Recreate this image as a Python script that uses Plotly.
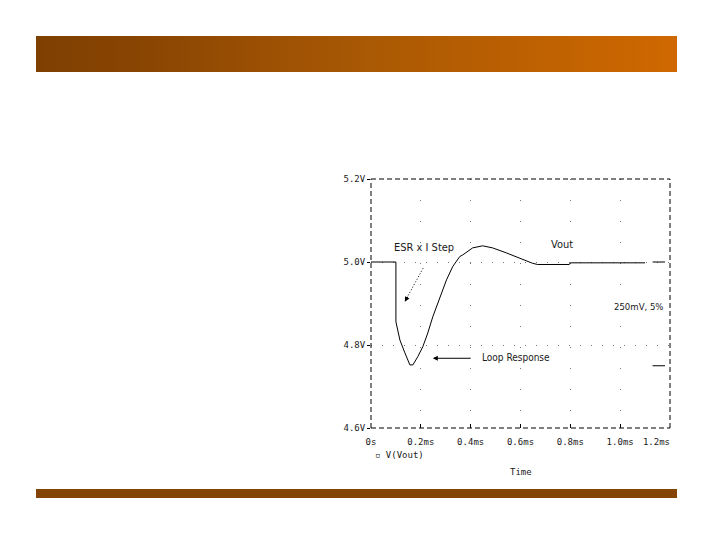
import base64
import plotly.graph_objects as go

# ---- data (time in ms, voltage in V) ----
time_ms = [0.0, 0.1, 0.1, 0.116, 0.136, 0.156, 0.168, 0.188, 0.208, 0.228, 0.248,
           0.276, 0.303, 0.328, 0.356, 0.368, 0.388, 0.408, 0.448, 0.488, 0.543,
           0.596, 0.648, 0.668, 0.796, 0.80, 1.10]
vout = [5.0, 5.0, 4.856, 4.812, 4.781, 4.752, 4.752, 4.772, 4.796, 4.829, 4.868,
        4.916, 4.957, 4.989, 5.013, 5.017, 5.025, 5.034, 5.039, 5.034, 5.022,
        5.009, 4.997, 4.994, 4.994, 4.998, 4.998]

tol_time = [1.13, 1.18]
tol_high = [5.0, 5.0]
tol_low = [4.75, 4.75]

x_ticks = [0.0, 0.2, 0.4, 0.6, 0.8, 1.0, 1.2]
x_labels = ["0s", "0.2ms", "0.4ms", "0.6ms", "0.8ms", "1.0ms",
            "1.2ms&nbsp;&nbsp;&nbsp;&nbsp;&nbsp;"]
y_ticks = [4.6, 4.8, 5.0, 5.2]
y_labels = ["4.6V", "4.8V", "5.0V", "5.2V"]

W, H = 720, 540
OFF = 8.0  # page body margin


def px(p):
    return (p - OFF) / W


def py(p):
    return 1 - (p - OFF) / H


PX_L, PX_R, PX_T, PX_B = 371, 670, 179, 428

FONT = "DejaVu Sans Mono"
NARROW = "Liberation Sans Narrow, DejaVu Sans Condensed, Arial Narrow, sans-serif"
TXT = "#1a1a1a"

fig = go.Figure()
fig.add_trace(go.Scatter(x=time_ms, y=vout, mode="lines",
                         line=dict(color="black", width=1), name="V(Vout)",
                         showlegend=False, hoverinfo="skip"))
fig.add_trace(go.Scatter(x=tol_time, y=tol_high, mode="lines",
                         line=dict(color="black", width=1), showlegend=False, hoverinfo="skip"))
fig.add_trace(go.Scatter(x=tol_time, y=tol_low, mode="lines",
                         line=dict(color="black", width=1), showlegend=False, hoverinfo="skip"))

# gradient banner as an SVG image
svg = ('<svg xmlns="http://www.w3.org/2000/svg" width="641" height="36" '
       'preserveAspectRatio="none" viewBox="0 0 641 36">'
       '<defs><linearGradient id="g" x1="0" y1="0" x2="1" y2="0">'
       '<stop offset="0" stop-color="#7e4002"/>'
       '<stop offset="0.15" stop-color="#884402"/>'
       '<stop offset="0.5" stop-color="#a85804"/>'
       '<stop offset="1" stop-color="#cf6800"/>'
       '</linearGradient></defs>'
       '<rect x="0" y="0" width="641" height="36" fill="url(#g)"/></svg>')
svg_uri = "data:image/svg+xml;base64," + base64.b64encode(svg.encode()).decode()

images = [dict(source=svg_uri, xref="paper", yref="paper",
               x=px(36), y=py(36), sizex=px(677) - px(36), sizey=py(36) - py(72),
               xanchor="left", yanchor="top", sizing="stretch", layer="below")]

shapes = []
# bottom bar
shapes.append(dict(type="rect", xref="paper", yref="paper",
                   x0=px(36), x1=px(677), y0=py(498), y1=py(489),
                   fillcolor="#844406", line=dict(width=0), layer="below"))
# dashed frame around the plot
for (xa, ya, xb, yb) in [(0, 0, 1, 0), (0, 1, 1, 1), (0, 0, 0, 1), (1, 0, 1, 1)]:
    shapes.append(dict(type="line", xref="x domain", yref="y domain",
                       x0=xa, y0=ya, x1=xb, y1=yb,
                       line=dict(color="black", width=1, dash="5px,3px")))
# dotted ESR arrow shaft
shapes.append(dict(type="line", xref="x", yref="y", x0=0.209, y0=4.985, x1=0.138, y1=4.907,
                   line=dict(color="black", width=1, dash="1px,2px")))
# Loop response arrow shaft
shapes.append(dict(type="line", xref="x", yref="y", x0=0.40, y0=4.768, x1=0.255, y1=4.768,
                   line=dict(color="black", width=1)))

annotations = [
    dict(x=0.212, y=5.034, xref="x", yref="y", text="ESR x I Step", showarrow=False,
         xanchor="center", yanchor="middle",
         font=dict(family=NARROW, size=11, color=TXT)),
    dict(x=0.136, y=4.904, ax=0.150, ay=4.920, xref="x", yref="y", axref="x", ayref="y",
         text="", showarrow=True, arrowhead=2, arrowsize=1, arrowwidth=1, arrowcolor="black"),
    dict(x=0.248, y=4.768, ax=0.27, ay=4.768, xref="x", yref="y", axref="x", ayref="y",
         text="", showarrow=True, arrowhead=2, arrowsize=1, arrowwidth=1, arrowcolor="black"),
    dict(x=0.436, y=4.769, xref="x", yref="y", text="Loop Response", showarrow=False,
         xanchor="left", yanchor="middle",
         font=dict(family=NARROW, size=10, color=TXT)),
    dict(x=0.768, y=5.041, xref="x", yref="y", text="Vout", showarrow=False,
         xanchor="center", yanchor="middle",
         font=dict(family=NARROW, size=11, color=TXT)),
    dict(x=1.074, y=4.892, xref="x", yref="y", text="250mV, 5%", showarrow=False,
         xanchor="center", yanchor="middle",
         font=dict(family=NARROW, size=9.5, color=TXT)),
    dict(x=px(373), y=py(455), xref="paper", yref="paper", text="▫ V(Vout)",
         showarrow=False, xanchor="left", yanchor="middle",
         font=dict(family=FONT, size=9, color=TXT)),
    dict(x=px(521), y=py(472), xref="paper", yref="paper", text="Time",
         showarrow=False, xanchor="center", yanchor="middle",
         font=dict(family=FONT, size=9, color=TXT)),
]

fig.update_layout(
    width=W, height=H, autosize=False,
    margin=dict(l=0, r=0, t=0, b=0, pad=0, autoexpand=False),
    paper_bgcolor="white", plot_bgcolor="white",
    shapes=shapes, annotations=annotations, images=images,
    showlegend=False,
    xaxis=dict(domain=[px(PX_L), px(PX_R)], range=[0, 1.2], tickvals=x_ticks,
               ticktext=x_labels, showline=False, zeroline=False, automargin=False,
               showgrid=True, gridcolor="#777", griddash="1px,20px", gridwidth=1,
               ticks="inside", ticklen=4, tickcolor="black", ticklabelstandoff=7,
               tickfont=dict(family=FONT, size=9, color=TXT), fixedrange=True),
    yaxis=dict(domain=[py(PX_B), py(PX_T)], range=[4.6, 5.2], tickvals=y_ticks,
               ticktext=y_labels, showline=False, zeroline=False, automargin=False,
               showgrid=True, gridcolor="#777", griddash="1px,10px", gridwidth=1,
               ticks="outside", ticklen=3, tickcolor="black",
               tickfont=dict(family=FONT, size=9, color=TXT), fixedrange=True),
)

fig.write_html("out.html")
